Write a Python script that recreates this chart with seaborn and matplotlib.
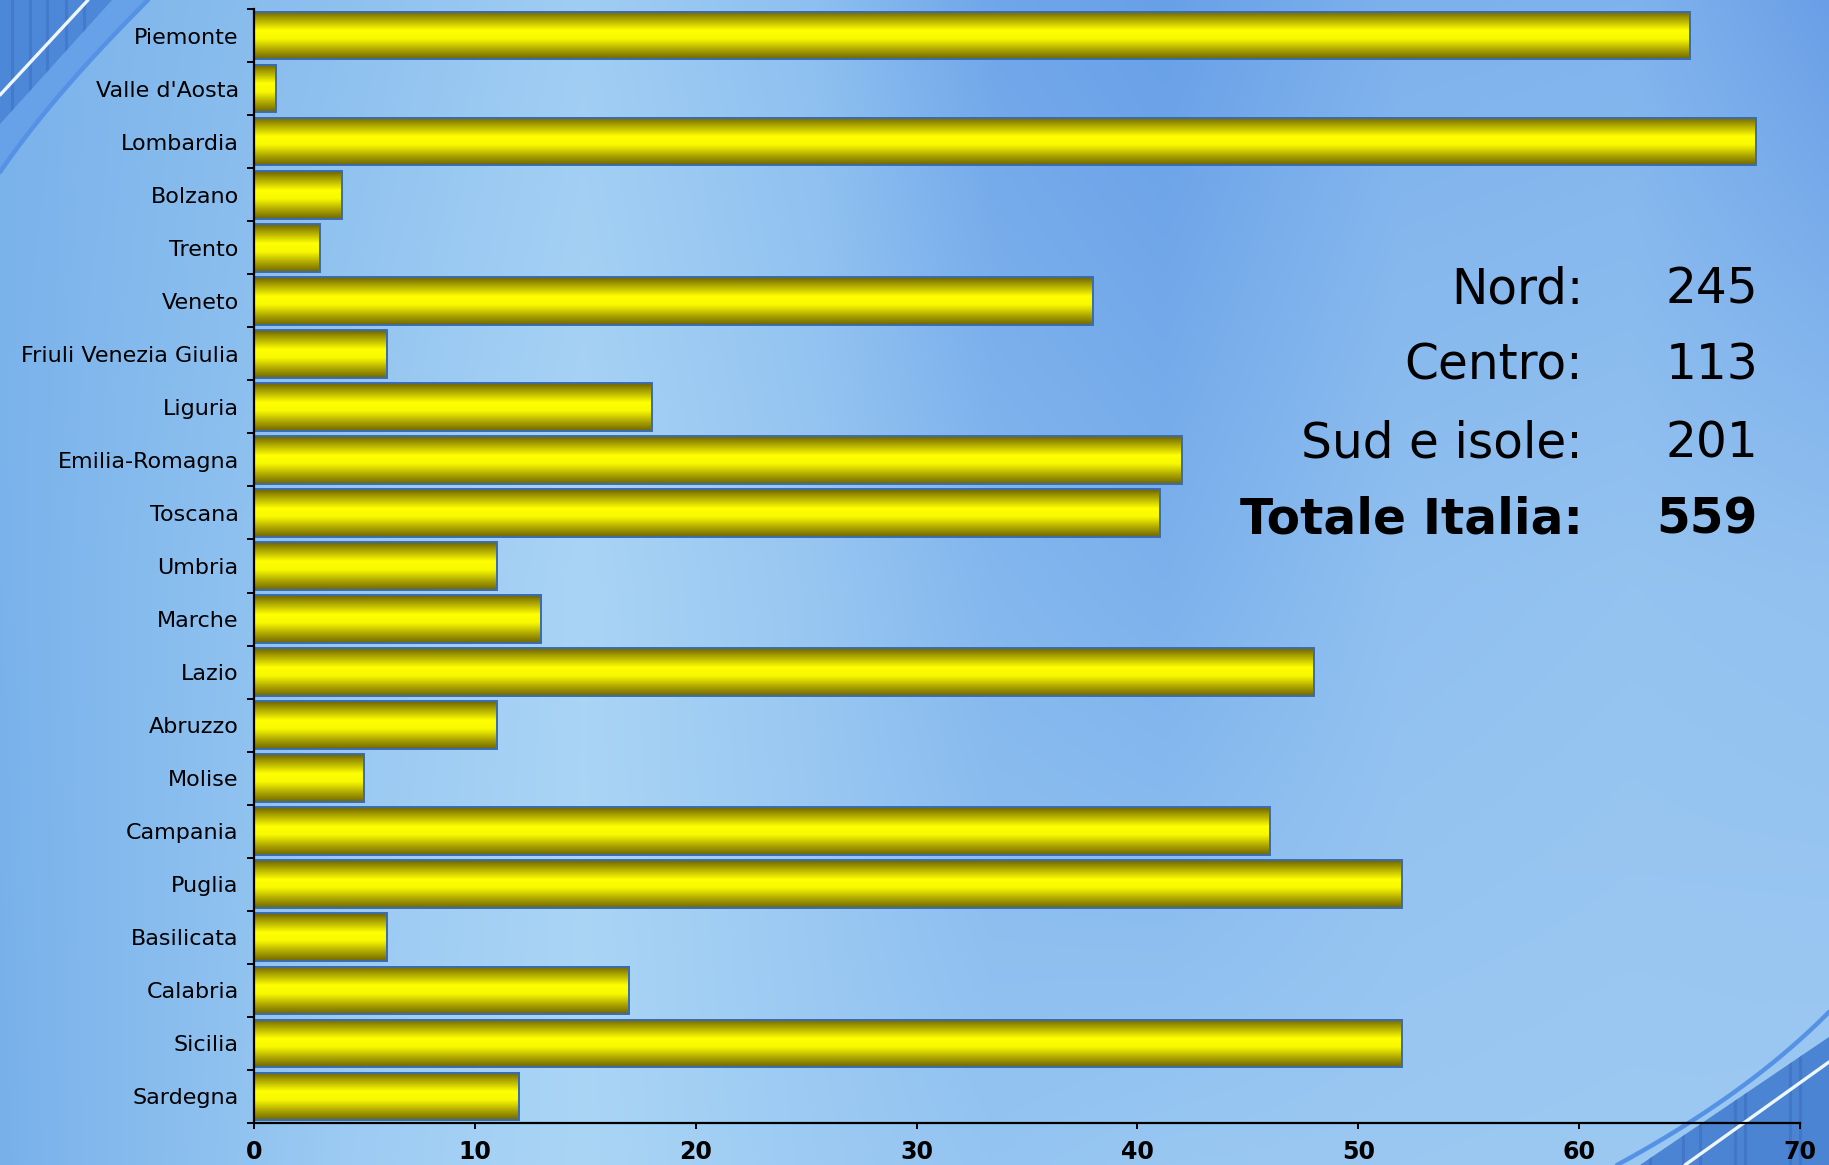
import numpy as np
import pandas as pd
import matplotlib
matplotlib.use("Agg")
import matplotlib.pyplot as plt
import seaborn as sns
from matplotlib.colors import LinearSegmentedColormap, to_rgb
from matplotlib.patches import Polygon

# ---- data -------------------------------------------------------------
regions = ["Piemonte", "Valle d'Aosta", "Lombardia", "Bolzano", "Trento",
           "Veneto", "Friuli Venezia Giulia", "Liguria", "Emilia-Romagna",
           "Toscana", "Umbria", "Marche", "Lazio", "Abruzzo", "Molise",
           "Campania", "Puglia", "Basilicata", "Calabria", "Sicilia",
           "Sardegna"]
counts = [65, 1, 68, 4, 3, 38, 6, 18, 42, 41, 11, 13, 48, 11, 5, 46, 52,
          6, 17, 52, 12]
summary_labels = ["Nord:", "Centro:", "Sud e isole:", "Totale Italia:"]
summary_values = [245, 113, 201, 559]
x_ticks = [0, 10, 20, 30, 40, 50, 60, 70]

sns.set_style("ticks")
plt.rcParams["font.family"] = ["DejaVu Sans"]
plt.rcParams["text.color"] = "black"
plt.rcParams["xtick.color"] = "black"
plt.rcParams["ytick.color"] = "black"

W, H = 1829, 1165
fig = plt.figure(figsize=(W / 100, H / 100), dpi=100)

# ---- backdrop: soft blue gradient with corner swooshes -----------------
bg = fig.add_axes([0, 0, 1, 1], zorder=-5)
bg.set_xlim(0, W)
bg.set_ylim(H, 0)
bg.axis("off")

stops_x = [0, 350, 583, 817, 992, 1166, 1400, 1633, 1829]
row_top = ["#7ab2ea", "#8fc1ef", "#a0cdf3", "#8dbff0", "#70a6ea", "#68a0e8",
           "#7eb1ec", "#80b3ed", "#6a9fe7"]
row_mid = ["#7ab3eb", "#98c8f2", "#a9d4f5", "#97c6f1", "#84b7ee", "#7cb1ec",
           "#90c0f0", "#94c3f0", "#92c1f0"]
row_bot = ["#78b1ea", "#9dcbf3", "#aad5f5", "#9ccaf3", "#94c4f1", "#98c7f2",
           "#9bc8f2", "#9cc9f2", "#9dc9f2"]
stops_y = [0, 583, 1165]

gx = np.linspace(0, W, 400)
gy = np.linspace(0, H, 260)
rows = []
for row in (row_top, row_mid, row_bot):
    rgb = np.array([to_rgb(c) for c in row])
    rows.append(np.stack([np.interp(gx, stops_x, rgb[:, k]) for k in range(3)], axis=-1))
rows = np.array(rows)  # (3, nx, 3)
img = np.empty((len(gy), len(gx), 3))
for k in range(3):
    for j in range(len(gx)):
        img[:, j, k] = np.interp(gy, stops_y, rows[:, j, k])
bg.imshow(img, extent=(0, W, H, 0), aspect="auto", interpolation="bilinear", zorder=0)


def quad(p0, c, p2, n=40):
    t = np.linspace(0, 1, n)[:, None]
    return (1 - t) ** 2 * np.array(p0) + 2 * (1 - t) * t * np.array(c) + t ** 2 * np.array(p2)


# top-left swoosh
arc_tl = quad((148, 0), (52, 96), (0, 172))
bg.add_patch(Polygon(np.vstack([[[0, 0]], arc_tl]), closed=True, fc="#67a1e8", ec="none", zorder=1))
dark_tl = Polygon([[0, 0], [112, 0], [0, 124]], closed=True, fc="#4c88d7", ec="none", zorder=2)
bg.add_patch(dark_tl)
for sx in (12, 30, 47, 66, 84):
    ln, = bg.plot([sx, sx], [0, 130], color="#3d70c2", lw=2.2, alpha=0.55, zorder=2.5)
    ln.set_clip_path(dark_tl)
bg.plot(arc_tl[:, 0], arc_tl[:, 1], color="#5592e6", lw=3.2, zorder=3)
bg.plot([0, 88], [95, 0], color="#eef6ff", lw=2.4, zorder=3)

# bottom-right swoosh
arc_br = quad((1617, 1165), (1748, 1094), (1829, 1012))
dark_br = Polygon([[1640, 1165], [1829, 1037], [1829, 1165]], closed=True,
                  fc="#4a84d3", ec="none", zorder=2)
bg.add_patch(dark_br)
for sx in (1650, 1683, 1700, 1735, 1745, 1790, 1800):
    ln, = bg.plot([sx, sx], [1000, 1165], color="#3d6ec0", lw=2.2, alpha=0.55, zorder=2.5)
    ln.set_clip_path(dark_br)
bg.plot(arc_br[:, 0], arc_br[:, 1], color="#5592e6", lw=3.2, zorder=3)
bg.plot([1685, 1829], [1165, 1062], color="#eef6ff", lw=2.4, zorder=3)

# ---- bar chart --------------------------------------------------------
ax = fig.add_axes([254 / W, 1 - 1123 / H, (1800 - 254) / W, (1123 - 9) / H])
ax.patch.set_alpha(0)

df = pd.DataFrame({"Regione": regions, "Sedi": counts})
sns.barplot(data=df, x="Sedi", y="Regione", orient="h", color="#ffff00",
            width=0.9, edgecolor="#3a6cb0", linewidth=1.4, ax=ax)

# metallic yellow fill for each bar
bar_cmap = LinearSegmentedColormap.from_list(
    "gold", [(0.0, "#6e6500"), (0.12, "#9c9400"), (0.40, "#ffff00"),
             (0.58, "#f8f800"), (0.82, "#aaa200"), (1.0, "#706800")])
shade = np.linspace(0, 1, 64)[:, None]
for bar in ax.patches:
    x0, y0 = bar.get_x(), bar.get_y()
    w, h = bar.get_width(), bar.get_height()
    ax.imshow(shade, cmap=bar_cmap, extent=(x0, x0 + w, y0 + h, y0),
              aspect="auto", interpolation="bilinear", zorder=1.5)
    bar.set_facecolor("none")
    bar.set_zorder(2)

ax.set_xlim(0, 70)
ax.set_ylim(len(regions) - 0.5, -0.5)

ax.set_xlabel("")
ax.set_ylabel("")
for side in ("top", "right"):
    ax.spines[side].set_visible(False)
for side in ("left", "bottom"):
    ax.spines[side].set_color("black")
    ax.spines[side].set_linewidth(1.6)

ax.set_xticks(x_ticks)
ax.set_xticklabels([str(t) for t in x_ticks], fontsize=17, fontweight="bold")
ax.tick_params(axis="x", direction="out", length=4.5, width=1.4, pad=8,
               colors="black")

ax.set_yticks(range(len(regions)))
ax.set_yticklabels(regions, fontsize=16)
ax.set_yticks(np.arange(-0.5, len(regions), 1.0), minor=True)
ax.tick_params(axis="y", which="major", length=0, pad=11, labelcolor="black")
ax.tick_params(axis="y", which="minor", direction="out", length=5, width=1.4,
               color="black")

# ---- summary totals ---------------------------------------------------
baselines = [303, 380, 457, 533]
for lab, val, yb in zip(summary_labels, summary_values, baselines):
    weight = "bold" if lab.startswith("Totale") else "normal"
    fig.text(1583 / W, 1 - yb / H, lab, ha="right", va="baseline",
             fontsize=35, fontweight=weight, color="black")
    fig.text(1758 / W, 1 - yb / H, str(val), ha="right", va="baseline",
             fontsize=35, fontweight=weight, color="black")

fig.savefig("out.png", dpi=100)
